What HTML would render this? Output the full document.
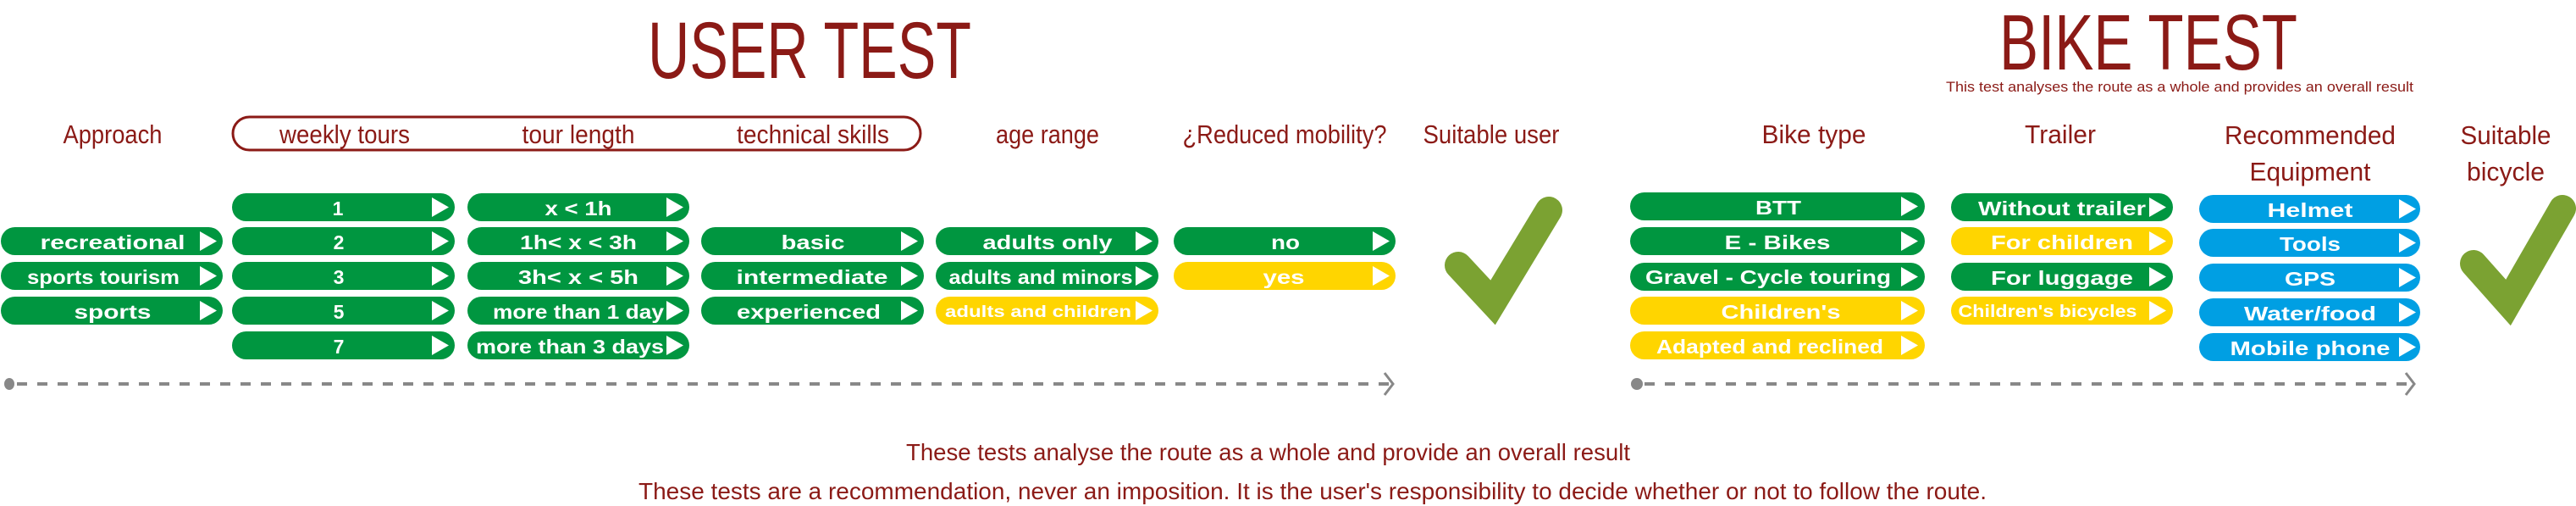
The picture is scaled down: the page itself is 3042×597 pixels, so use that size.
<!DOCTYPE html>
<html><head><meta charset="utf-8"><style>
html,body{margin:0;padding:0;background:#fff;}
svg{display:block;}
.h{font-family:"Liberation Sans Narrow","Liberation Sans",sans-serif;fill:#8b1a16;}
.p{font-family:"Liberation Sans",sans-serif;font-weight:bold;fill:#fff;font-size:23px;}
</style></head><body>
<svg width="3042" height="597" viewBox="0 0 3042 597" xmlns="http://www.w3.org/2000/svg">
<defs>
<path id="tri" d="M0,0 L20,11.5 L0,23 Z" fill="#fff"/>
</defs>
<!-- titles -->
<text class="h" x="765" y="92" font-size="95" textLength="382" lengthAdjust="spacingAndGlyphs">USER TEST</text>
<text class="h" x="2361" y="82" font-size="93" textLength="352" lengthAdjust="spacingAndGlyphs">BIKE TEST</text>
<text class="h" x="2298" y="108" font-size="17" textLength="552" lengthAdjust="spacingAndGlyphs">This test analyses the route as a whole and provides an overall result</text>

<!-- headers -->
<rect x="275" y="138" width="812" height="39" rx="19.5" fill="none" stroke="#8b1a16" stroke-width="3"/>
<g class="h" font-size="31" text-anchor="middle">
<text x="133" y="169" textLength="117" lengthAdjust="spacingAndGlyphs">Approach</text>
<text x="407" y="169" textLength="154" lengthAdjust="spacingAndGlyphs">weekly tours</text>
<text x="683" y="169" textLength="133" lengthAdjust="spacingAndGlyphs">tour length</text>
<text x="960" y="169" textLength="180" lengthAdjust="spacingAndGlyphs">technical skills</text>
<text x="1237" y="169" textLength="122" lengthAdjust="spacingAndGlyphs">age range</text>
<text x="1517" y="169" textLength="241" lengthAdjust="spacingAndGlyphs">¿Reduced mobility?</text>
<text x="1761" y="169" textLength="161" lengthAdjust="spacingAndGlyphs">Suitable user</text>
<text x="2142" y="169" textLength="123" lengthAdjust="spacingAndGlyphs">Bike type</text>
<text x="2433" y="169" textLength="84" lengthAdjust="spacingAndGlyphs">Trailer</text>
<text x="2728" y="170" textLength="202" lengthAdjust="spacingAndGlyphs">Recommended</text>
<text x="2728" y="213" textLength="143" lengthAdjust="spacingAndGlyphs">Equipment</text>
<text x="2959" y="170" textLength="107" lengthAdjust="spacingAndGlyphs">Suitable</text>
<text x="2959" y="213" textLength="92" lengthAdjust="spacingAndGlyphs">bicycle</text>
</g>

<!-- pills: green #009640, yellow #ffd500, blue #009fe3 -->
<g>
<!-- Approach col x 1..263 -->
<rect x="1" y="268" width="262" height="33" rx="16.5" fill="#009640"/><use href="#tri" x="236" y="273"/>
<rect x="1" y="309" width="262" height="33" rx="16.5" fill="#009640"/><use href="#tri" x="236" y="314"/>
<rect x="1" y="350" width="262" height="33" rx="16.5" fill="#009640"/><use href="#tri" x="236" y="355"/>
<!-- weekly 274..537 -->
<rect x="274" y="228" width="263" height="33" rx="16.5" fill="#009640"/><use href="#tri" x="510" y="233"/>
<rect x="274" y="268" width="263" height="33" rx="16.5" fill="#009640"/><use href="#tri" x="510" y="273"/>
<rect x="274" y="309" width="263" height="33" rx="16.5" fill="#009640"/><use href="#tri" x="510" y="314"/>
<rect x="274" y="350" width="263" height="33" rx="16.5" fill="#009640"/><use href="#tri" x="510" y="355"/>
<rect x="274" y="391" width="263" height="33" rx="16.5" fill="#009640"/><use href="#tri" x="510" y="396"/>
<!-- tour length 552..814 -->
<rect x="552" y="228" width="262" height="33" rx="16.5" fill="#009640"/><use href="#tri" x="787" y="233"/>
<rect x="552" y="268" width="262" height="33" rx="16.5" fill="#009640"/><use href="#tri" x="787" y="273"/>
<rect x="552" y="309" width="262" height="33" rx="16.5" fill="#009640"/><use href="#tri" x="787" y="314"/>
<rect x="552" y="350" width="262" height="33" rx="16.5" fill="#009640"/><use href="#tri" x="787" y="355"/>
<rect x="552" y="391" width="262" height="33" rx="16.5" fill="#009640"/><use href="#tri" x="787" y="396"/>
<!-- technical 828..1091 -->
<rect x="828" y="268" width="263" height="33" rx="16.5" fill="#009640"/><use href="#tri" x="1064" y="273"/>
<rect x="828" y="309" width="263" height="33" rx="16.5" fill="#009640"/><use href="#tri" x="1064" y="314"/>
<rect x="828" y="350" width="263" height="33" rx="16.5" fill="#009640"/><use href="#tri" x="1064" y="355"/>
<!-- age 1105..1368 -->
<rect x="1105" y="268" width="263" height="33" rx="16.5" fill="#009640"/><use href="#tri" x="1341" y="273"/>
<rect x="1105" y="309" width="263" height="33" rx="16.5" fill="#009640"/><use href="#tri" x="1341" y="314"/>
<rect x="1105" y="350" width="263" height="33" rx="16.5" fill="#ffd500"/><use href="#tri" x="1341" y="355"/>
<!-- mobility 1386..1648 -->
<rect x="1386" y="268" width="262" height="33" rx="16.5" fill="#009640"/><use href="#tri" x="1621" y="273"/>
<rect x="1386" y="309" width="262" height="33" rx="16.5" fill="#ffd500"/><use href="#tri" x="1621" y="314"/>
<!-- bike type 1925..2273 -->
<rect x="1925" y="227" width="348" height="33" rx="16.5" fill="#009640"/><use href="#tri" x="2245" y="232"/>
<rect x="1925" y="268" width="348" height="33" rx="16.5" fill="#009640"/><use href="#tri" x="2245" y="273"/>
<rect x="1925" y="310" width="348" height="33" rx="16.5" fill="#009640"/><use href="#tri" x="2245" y="315"/>
<rect x="1925" y="350" width="348" height="33" rx="16.5" fill="#ffd500"/><use href="#tri" x="2245" y="355"/>
<rect x="1925" y="391" width="348" height="33" rx="16.5" fill="#ffd500"/><use href="#tri" x="2245" y="396"/>
<!-- trailer 2304..2566 -->
<rect x="2304" y="228" width="262" height="33" rx="16.5" fill="#009640"/><use href="#tri" x="2538" y="233"/>
<rect x="2304" y="268" width="262" height="33" rx="16.5" fill="#ffd500"/><use href="#tri" x="2538" y="273"/>
<rect x="2304" y="310" width="262" height="33" rx="16.5" fill="#009640"/><use href="#tri" x="2538" y="315"/>
<rect x="2304" y="350" width="262" height="33" rx="16.5" fill="#ffd500"/><use href="#tri" x="2538" y="355"/>
<!-- equipment 2597..2858 -->
<rect x="2597" y="230" width="261" height="33" rx="16.5" fill="#009fe3"/><use href="#tri" x="2833" y="235"/>
<rect x="2597" y="270" width="261" height="33" rx="16.5" fill="#009fe3"/><use href="#tri" x="2833" y="275"/>
<rect x="2597" y="311" width="261" height="33" rx="16.5" fill="#009fe3"/><use href="#tri" x="2833" y="316"/>
<rect x="2597" y="352" width="261" height="33" rx="16.5" fill="#009fe3"/><use href="#tri" x="2833" y="357"/>
<rect x="2597" y="393" width="261" height="33" rx="16.5" fill="#009fe3"/><use href="#tri" x="2833" y="398"/>
</g>

<g class="p" text-anchor="middle">
<text x="133" y="294" textLength="171" lengthAdjust="spacingAndGlyphs">recreational</text>
<text x="122" y="335" textLength="180" lengthAdjust="spacingAndGlyphs">sports tourism</text>
<text x="133" y="376" textLength="91" lengthAdjust="spacingAndGlyphs">sports</text>
<text x="399" y="254">1</text>
<text x="400" y="294">2</text>
<text x="400" y="335">3</text>
<text x="400" y="376">5</text>
<text x="400" y="417">7</text>
<text x="683" y="254" textLength="79" lengthAdjust="spacingAndGlyphs">x &lt; 1h</text>
<text x="683" y="294" textLength="138" lengthAdjust="spacingAndGlyphs">1h&lt; x &lt; 3h</text>
<text x="683" y="335" textLength="142" lengthAdjust="spacingAndGlyphs">3h&lt; x &lt; 5h</text>
<text x="683" y="376" textLength="202" lengthAdjust="spacingAndGlyphs">more than 1 day</text>
<text x="673" y="417" textLength="222" lengthAdjust="spacingAndGlyphs">more than 3 days</text>
<text x="960" y="294" textLength="75" lengthAdjust="spacingAndGlyphs">basic</text>
<text x="959" y="335" textLength="179" lengthAdjust="spacingAndGlyphs">intermediate</text>
<text x="955" y="376" textLength="170" lengthAdjust="spacingAndGlyphs">experienced</text>
<text x="1237" y="294" textLength="153" lengthAdjust="spacingAndGlyphs">adults only</text>
<text x="1229" y="335" textLength="217" lengthAdjust="spacingAndGlyphs">adults and minors</text>
<text x="1226" y="374" font-size="19" textLength="220" lengthAdjust="spacingAndGlyphs">adults and children</text>
<text x="1518" y="294" textLength="34" lengthAdjust="spacingAndGlyphs">no</text>
<text x="1516" y="335" textLength="49" lengthAdjust="spacingAndGlyphs">yes</text>
<text x="2100" y="253" textLength="54" lengthAdjust="spacingAndGlyphs">BTT</text>
<text x="2099" y="294" textLength="125" lengthAdjust="spacingAndGlyphs">E - Bikes</text>
<text x="2088" y="335" textLength="290" lengthAdjust="spacingAndGlyphs">Gravel - Cycle touring</text>
<text x="2103" y="376" textLength="141" lengthAdjust="spacingAndGlyphs">Children's</text>
<text x="2090" y="417" textLength="268" lengthAdjust="spacingAndGlyphs">Adapted and reclined</text>
<text x="2435" y="254" textLength="198" lengthAdjust="spacingAndGlyphs">Without trailer</text>
<text x="2435" y="294" textLength="168" lengthAdjust="spacingAndGlyphs">For children</text>
<text x="2435" y="336" textLength="168" lengthAdjust="spacingAndGlyphs">For luggage</text>
<text x="2418" y="374" font-size="20" textLength="211" lengthAdjust="spacingAndGlyphs">Children's bicycles</text>
<text x="2728" y="256" textLength="101" lengthAdjust="spacingAndGlyphs">Helmet</text>
<text x="2728" y="296" textLength="72" lengthAdjust="spacingAndGlyphs">Tools</text>
<text x="2728" y="337" textLength="60" lengthAdjust="spacingAndGlyphs">GPS</text>
<text x="2728" y="378" textLength="156" lengthAdjust="spacingAndGlyphs">Water/food</text>
<text x="2728" y="419" textLength="189" lengthAdjust="spacingAndGlyphs">Mobile phone</text>
</g>

<!-- checkmarks -->
<polyline points="1722,313 1763,357 1829,248" fill="none" stroke="#7ba232" stroke-width="32" stroke-linecap="round" stroke-linejoin="miter" stroke-miterlimit="10"/>
<polyline points="2921,311 2962,357 3026,246" fill="none" stroke="#7ba232" stroke-width="32" stroke-linecap="round" stroke-linejoin="miter" stroke-miterlimit="10"/>

<!-- dashed lines -->
<g stroke="#888" fill="none">
<line x1="20" y1="453" x2="1640" y2="453" stroke-width="4" stroke-dasharray="12 12"/>
<polyline points="1635,440 1645,453 1635,466" stroke-width="3"/>
<line x1="1942" y1="453" x2="2846" y2="453" stroke-width="4" stroke-dasharray="12 12"/>
<polyline points="2841,440 2851,453 2841,466" stroke-width="3"/>
</g>
<ellipse cx="11" cy="453" rx="6" ry="7" fill="#888"/>
<ellipse cx="1933" cy="453" rx="7" ry="7" fill="#888"/>

<!-- bottom text -->
<text class="h" x="1070" y="543" font-size="28" textLength="855" lengthAdjust="spacingAndGlyphs">These tests analyse the route as a whole and provide an overall result</text>
<text class="h" x="754" y="589" font-size="28" textLength="1592" lengthAdjust="spacingAndGlyphs">These tests are a recommendation, never an imposition. It is the user's responsibility to decide whether or not to follow the route.</text>
</svg>
</body></html>
